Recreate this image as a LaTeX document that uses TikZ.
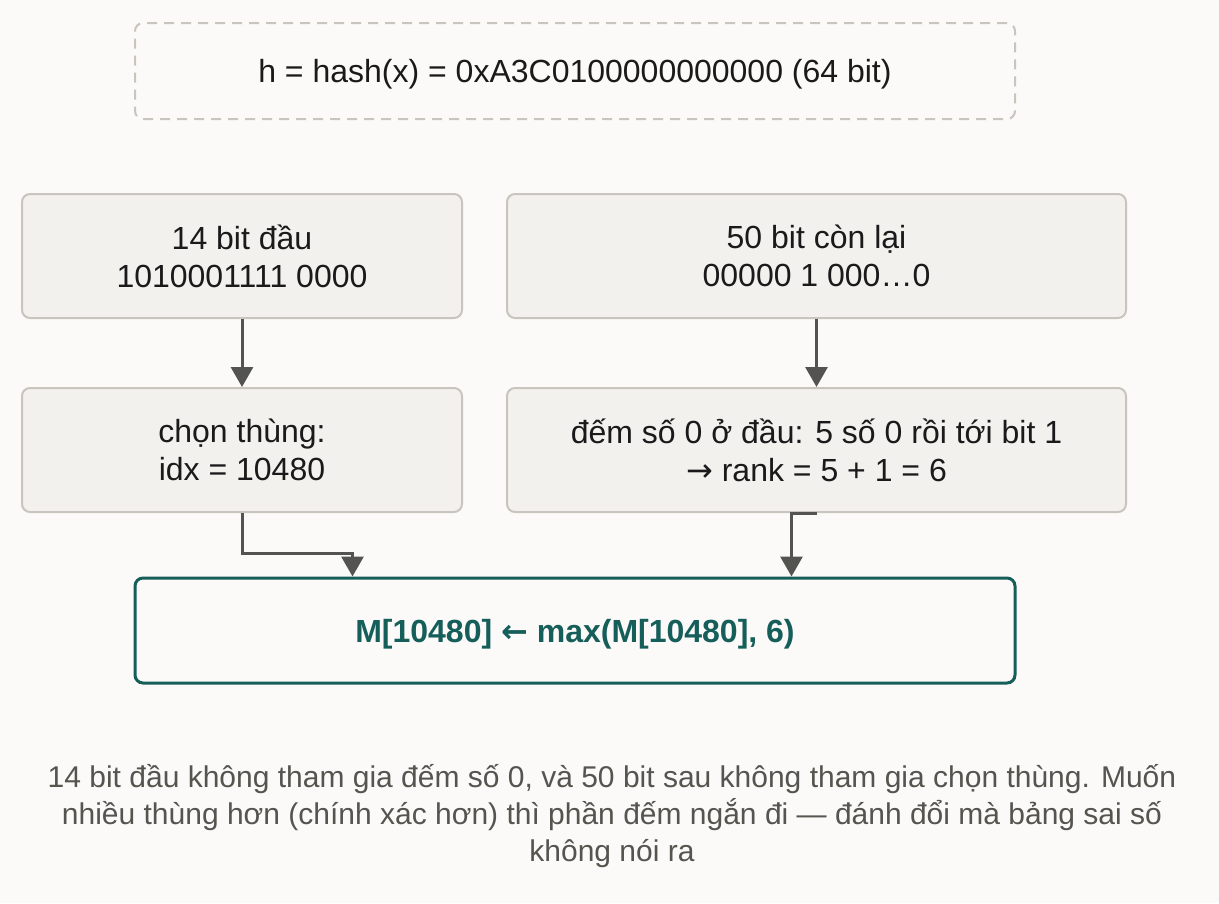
\documentclass[tikz,border=0pt]{standalone}
\usepackage{fontspec}
\setmainfont{Liberation Sans}
\newfontfamily\arrowfont{DejaVu Sans}
\usetikzlibrary{arrows.meta,positioning}
\definecolor{bgcol}{HTML}{FBFAF8}
\definecolor{boxfill}{HTML}{F2F1EE}
\definecolor{boxline}{HTML}{C8C5BE}
\definecolor{arrowcol}{HTML}{53534F}
\definecolor{tealcol}{HTML}{165E59}
\definecolor{inkcol}{HTML}{1A1A1A}
\definecolor{notecol}{HTML}{55554F}
\newcommand{\rarr}{{\arrowfont →}}
\newcommand{\larr}{{\arrowfont ←}}
\tikzstyle{every node}=[font=\fontsize{32}{38}\selectfont,text=inkcol]
\tikzstyle{hashbox}=[rectangle,
                                    rounded corners=8pt,
                                    draw=boxline,
                                    line width=2pt,
                                    dash pattern=on 10pt off 7pt,
                                    fill=bgcol,
                                    text height=23pt,
                                    text depth=0pt,
                                    minimum width=880pt,
                                    minimum height=96pt
                                    ]
\tikzstyle{bitbox}=[rectangle,
                                    rounded corners=8pt,
                                    draw=boxline,
                                    line width=2pt,
                                    fill=boxfill,
                                    align=center,
                                    minimum height=124pt
                                    ]
\tikzstyle{resultbox}=[rectangle,
                                    rounded corners=8pt,
                                    draw=tealcol,
                                    line width=3pt,
                                    fill=bgcol,
                                    text height=23pt,
                                    text depth=0pt,
                                    minimum width=880pt,
                                    minimum height=105pt,
                                    font=\fontsize{32}{38}\selectfont\bfseries,
                                    text=tealcol
                                    ]
\tikzstyle{conn}=[line width=3pt,
                                    draw=arrowcol,
                                    -{Triangle[width=22pt,length=20pt]}
                                    ]

\begin{document}
\begin{tikzpicture}[x=1pt,y=-1pt]
\fill[bgcol] (0,0) rectangle (1219,903);
\node (hash)   [hashbox] at (575,71) {h = hash(x) = 0xA3C0100000000000 (64 bit)};
\node (head)   [bitbox,minimum width=440pt] at (242,256) {14 bit đầu\\1010001111 0000};
\node (tail)   [bitbox,minimum width=619pt,right=43pt of head] {50 bit còn lại\\00000 1 000…0};
\node (bucket) [bitbox,minimum width=440pt,below=68pt of head] {chọn thùng:\\idx = 10480};
\node (rank)   [bitbox,minimum width=619pt,below=68pt of tail] {đếm số 0 ở đầu: 5 số 0 rồi tới bit 1\\\rarr\ rank = 5 + 1 = 6};
\node (update) [resultbox] at (575,630.5) {M[10480] \larr\ max(M[10480], 6)};
\node (note)   [text=notecol,align=center,font=\fontsize{30}{37}\selectfont] at (612,816) {14 bit đầu không tham gia đếm số 0, và 50 bit sau không tham gia chọn thùng. Muốn\\nhiều thùng hơn (chính xác hơn) thì phần đếm ngắn đi — đánh đổi mà bảng sai số\\không nói ra};
 \draw[conn] (head) -- (bucket);
 \draw[conn] (tail) -- (rank);
 \draw[conn] (bucket.south) -- ++(0,40) -| ([xshift=219pt]update.north west);
 \draw[conn] (rank.south) -| ([xshift=658pt]update.north west);
\end{tikzpicture}
\end{document}
